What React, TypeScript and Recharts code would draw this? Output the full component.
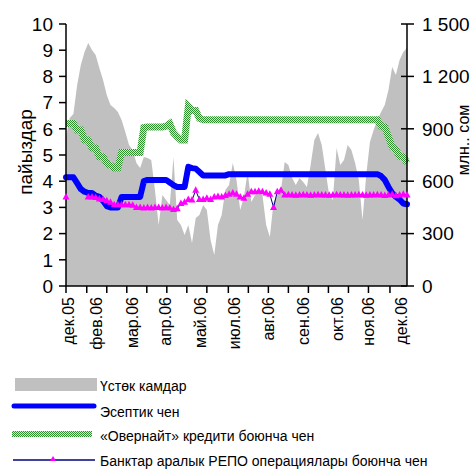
import { Area, ComposedChart, Line, XAxis, YAxis } from "recharts";

const monthLabels = ["дек.05", "фев.06", "мар.06", "апр.06", "май.06", "июл.06", "авг.06", "сен.06", "окт.06", "ноя.06", "дек.06"];
const labelTicks = [0.6, 8.3, 17.8, 26.8, 36.3, 45.5, 54.7, 64.1, 73.3, 81.7, 90.4];
const minorTicks = [0, 5.6, 11, 16.4, 21.8, 27.2, 32.6, 38, 43.8, 49.2, 54.6, 60, 65.4, 70.8, 76.2, 81.6, 87.4];
const percentTicks = [0, 1, 2, 3, 4, 5, 6, 7, 8, 9, 10];
const reserveTicks = [0, 300, 600, 900, 1200, 1500];

// excess reserves, mln som (right axis)
const reserves = [
  853, 962, 985, 1150, 1265, 1340, 1391, 1351, 1322, 1248,
  1179, 1093, 1036, 1019, 996, 950, 882, 807, 779, 704,
  676, 739, 733, 721, 550, 349, 521, 492, 464, 739,
  378, 349, 292, 349, 246, 389, 406, 464, 435, 263,
  177, 349, 406, 550, 578, 704, 607, 435, 510, 653,
  481, 521, 538, 521, 349, 281, 481, 521, 550, 710,
  693, 618, 578, 618, 595, 567, 693, 836, 876, 807,
  664, 521, 492, 790, 693, 721, 807, 779, 704, 607,
  378, 635, 824, 893, 950, 996, 1036, 1122, 1254, 1208,
  1294, 1340, 1363,
];

// discount rate, %
const discountRate = [
  4.15, 4.15, 4.15, 3.93, 3.7, 3.6, 3.55, 3.55, 3.45, 3.4,
  3.25, 3.05, 3.0, 3.0, 3.0, 3.4, 3.4, 3.4, 3.4, 3.4,
  3.4, 4.0, 4.05, 4.05, 4.05, 4.05, 4.05, 4.05, 3.95, 3.85,
  3.78, 3.78, 3.78, 4.55, 4.5, 4.48, 4.35, 4.22, 4.22, 4.22,
  4.22, 4.22, 4.22, 4.22, 4.27, 4.27, 4.27, 4.27, 4.27, 4.27,
  4.27, 4.27, 4.27, 4.27, 4.27, 4.27, 4.27, 4.27, 4.27, 4.27,
  4.27, 4.27, 4.27, 4.27, 4.27, 4.27, 4.27, 4.27, 4.27, 4.27,
  4.27, 4.27, 4.27, 4.27, 4.27, 4.27, 4.27, 4.27, 4.27, 4.27,
  4.27, 4.27, 4.27, 4.27, 4.27, 4.2, 4.05, 3.78, 3.55, 3.4,
  3.3, 3.15, 3.12,
];

// overnight credit rate, %
const overnightRate = [
  6.2, 6.2, 6.2, 5.95, 5.95, 5.57, 5.57, 5.27, 5.27, 4.93,
  4.93, 4.68, 4.6, 4.5, 4.5, 5.1, 5.1, 5.1, 5.1, 5.1,
  5.1, 6.05, 6.07, 6.07, 6.07, 6.07, 6.07, 6.1, 6.2, 5.85,
  5.7, 5.57, 5.57, 6.85, 6.7, 6.7, 6.4, 6.35, 6.35, 6.35,
  6.35, 6.35, 6.35, 6.35, 6.35, 6.35, 6.35, 6.35, 6.35, 6.35,
  6.35, 6.35, 6.35, 6.35, 6.35, 6.35, 6.35, 6.35, 6.35, 6.35,
  6.35, 6.35, 6.35, 6.35, 6.35, 6.35, 6.35, 6.35, 6.35, 6.35,
  6.35, 6.35, 6.35, 6.35, 6.35, 6.35, 6.35, 6.35, 6.35, 6.35,
  6.35, 6.35, 6.35, 6.35, 6.35, 6.1, 6.07, 5.7, 5.3, 5.2,
  4.95, 4.93, 4.7,
];

// interbank REPO rate, %
const repoRate = [
  3.4, null, null, null, null, null, 3.4, 3.4, 3.38, 3.32,
  3.3, 3.25, 3.2, 3.1, 3.1, 3.1, 3.1, 3.1, 3.08, 3.0,
  3.0, 2.98, 3.0, 2.98, 3.0, 3.0, 2.98, 3.0, 2.98, 2.92,
  2.95, 3.15, 3.2, 3.3, 3.28, 3.65, 3.3, 3.3, 3.35, 3.3,
  3.4, 3.42, 3.4, 3.45, 3.5, 3.55, 3.5, 3.4, 3.35, 3.5,
  3.6, 3.6, 3.62, 3.6, 3.55, 3.5, 3.0, 3.6, 3.65, 3.47,
  3.48, 3.47, 3.46, 3.47, 3.48, 3.47, 3.46, 3.47, 3.48, 3.47,
  3.47, 3.46, 3.47, 3.48, 3.47, 3.47, 3.46, 3.47, 3.47, 3.48,
  3.47, 3.46, 3.47, 3.47, 3.48, 3.47, 3.45, 3.47, 3.5, 3.44,
  3.47, 3.5, 3.47,
];

const data = reserves.map((r, i) => ({
  i,
  reserves: r,
  discount: discountRate[i],
  overnight: overnightRate[i],
  repo: repoRate[i],
}));

const allTicks = [...minorTicks, ...labelTicks].sort((a, b) => a - b);

const NARROW = "'Liberation Sans Narrow', 'Arial Narrow', 'Liberation Sans', Arial, sans-serif";
const REGULAR = "'Liberation Sans', Arial, sans-serif";

function DateTick({ x, y, payload }: any) {
  const k = labelTicks.indexOf(payload.value);
  if (k < 0) return <line x1={x} y1={y} x2={x} y2={y + 7} stroke="#000" strokeWidth={1.5} />;
  const ty = y + 11;
  return (
    <text x={x} y={ty} dy="0.35em" transform={`rotate(-90 ${x} ${ty})`} textAnchor="end" fontSize={16} fontFamily={NARROW} fill="#000">
      {monthLabels[k]}
    </text>
  );
}

function PercentTick({ x, y, payload }: any) {
  return (
    <g>
      <line x1={x - 7} y1={y} x2={x} y2={y} stroke="#000" strokeWidth={1.5} />
      <text x={x - 13} y={y} dy="0.36em" textAnchor="end" fontSize={19} fontFamily={NARROW} fill="#000">
        {payload.value}
      </text>
    </g>
  );
}

function ReserveTick({ x, y, payload }: any) {
  const v = Number(payload.value);
  const label = v >= 1000 ? `${Math.floor(v / 1000)} ${String(v % 1000).padStart(3, "0")}` : String(v);
  return (
    <g>
      <line x1={x - 6} y1={y} x2={x + 7} y2={y} stroke="#000" strokeWidth={1.5} />
      <text x={x + 15} y={y} dy="0.36em" textAnchor="start" fontSize={19} fontFamily={NARROW} fill="#000">
        {label}
      </text>
    </g>
  );
}

function TriangleDot({ cx, cy, value }: any) {
  if (value == null || cx == null || cy == null) return <g />;
  return <polygon points={`${cx},${cy - 4} ${cx + 3.5},${cy + 2.5} ${cx - 3.5},${cy + 2.5}`} fill="#FF00FF" />;
}

function Checker({ id }: { id: string }) {
  return (
    <pattern id={id} width="2" height="2" patternUnits="userSpaceOnUse">
      <rect width="2" height="2" fill="#d2ecd2" />
      <rect width="1" height="1" fill="#2f8f2f" />
      <rect x="1" y="1" width="1" height="1" fill="#2f8f2f" />
    </pattern>
  );
}

export default function App() {
  return (
    <div style={{ position: "absolute", left: 0, top: 0, width: 472, height: 472, background: "#fff" }}>
      <ComposedChart width={472} height={360} data={data} margin={{ top: 24, right: 0, bottom: 0, left: 0 }}>
        <defs>
          <Checker id="checker" />
        </defs>
        <XAxis
          dataKey="i"
          type="number"
          domain={[0, 92]}
          ticks={allTicks}
          interval={0}
          tickSize={0}
          tickMargin={0}
          tickLine={false}
          tick={DateTick}
          height={74}
          axisLine={{ stroke: "#000", strokeWidth: 1.5 }}
        />
        <YAxis
          yAxisId="left"
          domain={[0, 10]}
          ticks={percentTicks}
          interval={0}
          width={66}
          tickSize={0}
          tickMargin={0}
          tickLine={false}
          tick={PercentTick}
          axisLine={{ stroke: "#000", strokeWidth: 1.5 }}
        />
        <YAxis
          yAxisId="right"
          orientation="right"
          domain={[0, 1500]}
          ticks={reserveTicks}
          interval={0}
          width={65}
          tickSize={0}
          tickMargin={0}
          tickLine={false}
          tick={ReserveTick}
          axisLine={{ stroke: "#000", strokeWidth: 1.5 }}
        />
        <Area yAxisId="right" dataKey="reserves" type="linear" fill="#C0C0C0" fillOpacity={1} stroke="none" isAnimationActive={false} />
        <Line yAxisId="left" dataKey="overnight" type="linear" stroke="url(#checker)" strokeWidth={7} dot={false} activeDot={false} isAnimationActive={false} />
        <Line yAxisId="left" dataKey="discount" type="linear" stroke="#0000FF" strokeWidth={6} strokeLinecap="round" strokeLinejoin="round" dot={false} activeDot={false} isAnimationActive={false} />
        <Line yAxisId="left" dataKey="repo" type="linear" stroke="#000080" strokeWidth={1} dot={TriangleDot} activeDot={false} isAnimationActive={false} />
      </ComposedChart>

      <svg width={472} height={472} style={{ position: "absolute", left: 0, top: 0, pointerEvents: "none" }}>
        <defs>
          <Checker id="checkerLegend" />
        </defs>
        <text x={25} y={152} transform="rotate(-90 25 152)" textAnchor="middle" dy="0.35em" fontSize={19} fontFamily={NARROW} fill="#000">
          пайыздар
        </text>
        <text x={463} y={140} transform="rotate(-90 463 140)" textAnchor="middle" dy="0.35em" fontSize={16} fontFamily={NARROW} fill="#000">
          млн.. сом
        </text>

        <rect x={15} y={378} width={82} height={13} fill="#C0C0C0" />
        <text x={100} y={386} dy="0.35em" fontSize={14} fontFamily={REGULAR} fill="#000">Үстөк камдар</text>

        <line x1={14} y1={406} x2={94} y2={406} stroke="#0000FF" strokeWidth={5} strokeLinecap="round" />
        <text x={100} y={412} dy="0.35em" fontSize={14} fontFamily={REGULAR} fill="#000">Эсептик чен</text>

        <rect x={12} y={431} width={80} height={6} fill="url(#checkerLegend)" />
        <text x={100} y={436} dy="0.35em" fontSize={14} fontFamily={REGULAR} fill="#000">«Овернайт» кредити боюнча чен</text>

        <line x1={13} y1={460} x2={95} y2={460} stroke="#000080" strokeWidth={1.5} />
        <polygon points="53,456 56,461 50,461" fill="#FF00FF" />
        <text x={100} y={461} dy="0.35em" fontSize={14} fontFamily={REGULAR} fill="#000">Банктар аралык РЕПО операциялары боюнча чен</text>
      </svg>
    </div>
  );
}
